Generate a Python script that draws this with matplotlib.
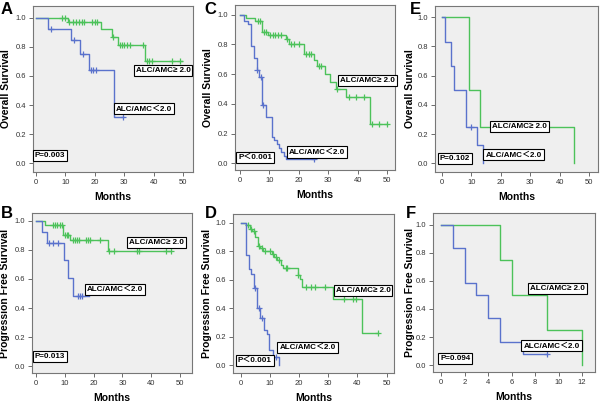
import numpy as np
import matplotlib
matplotlib.use("Agg")
import matplotlib.pyplot as plt

plt.rcParams['font.family'] = ['Liberation Sans', 'Noto Sans CJK SC', 'DejaVu Sans']

BLUE = "#5a72cc"
GREEN = "#4cc25a"

# ---- panel A: overall survival, cohort 1
a_hi_t = [0, 11, 22, 26, 28, 37]
a_hi_s = [1.0, 0.97, 0.92, 0.87, 0.815, 0.70]
a_hi_end = 49.5
a_hi_cens = [9, 10, 11.3, 12.7, 13.6, 14.5, 15.5, 16.2, 19.2, 20.1, 20.9, 26.2,
             28.5, 29.2, 30, 31, 32, 36.4, 37.6, 38.5, 39.4, 46.3, 49.1]
a_lo_t = [0, 4.2, 12, 15, 18.2, 26.4]
a_lo_s = [1.0, 0.922, 0.845, 0.748, 0.64, 0.32]
a_lo_end = 29.5
a_lo_cens = [5, 13, 16.1, 18.6, 19.5, 20.3, 29.5]

# ---- panel B: progression free survival, cohort 1
b_hi_t = [0, 3.1, 9.5, 11.8, 25.1]
b_hi_s = [1.0, 0.97, 0.905, 0.865, 0.79]
b_hi_end = 47
b_hi_cens = [5.8, 6.6, 7.4, 8.3, 9.1, 10.1, 10.6, 11.2, 12.7, 13.5, 14.4, 15,
             17.2, 17.9, 18.8, 22.2, 25.5, 27.1, 35, 35.9, 45, 46.9]
b_lo_t = [0, 2, 3.7, 9.8, 11, 12.7]
b_lo_s = [1.0, 0.923, 0.846, 0.727, 0.605, 0.485]
b_lo_end = 18.5
b_lo_cens = [4.6, 5.8, 7.8, 14.7, 15.3, 15.9]

# ---- panel C: overall survival, cohort 2
c_hi_t = [0, 1.9, 5.1, 7.5, 9.4, 15.7, 16.6, 21.6, 25, 26.1, 29, 30.7, 32.7, 36.1, 44.3]
c_hi_s = [1.0, 0.98, 0.96, 0.88, 0.86, 0.835, 0.805, 0.735, 0.695, 0.652, 0.60,
          0.55, 0.50, 0.444, 0.265]
c_hi_end = 50
c_hi_cens = [6, 6.8, 8, 8.9, 10.2, 11.1, 12, 13, 13.9, 16.1, 17.3, 18.4, 19.9,
             22.5, 23.4, 24.3, 26.8, 27.7, 33, 36.9, 39.5, 42, 44.9, 47.2, 50]
c_lo_t = [0, 1.5, 2.6, 3.75, 4.8, 5.7, 6.5, 7.6, 8.75, 10.8, 11.6, 12.5, 13.4, 14.1, 14.8, 15.7]
c_lo_s = [1.0, 0.96, 0.94, 0.79, 0.71, 0.625, 0.58, 0.39, 0.31, 0.18, 0.155, 0.13,
          0.10, 0.075, 0.05, 0.028]
c_lo_end = 25.2
c_lo_cens = [5.9, 7.0, 7.9, 25.2]

# ---- panel D: progression free survival, cohort 2
d_hi_t = [0, 2.0, 3.2, 4.0, 5.1, 5.9, 6.8, 7.7, 10.8, 11.6, 12.3, 13.7, 14.6,
          19.5, 20.2, 21.1, 31.7, 41.4]
d_hi_s = [1.0, 0.984, 0.956, 0.94, 0.897, 0.84, 0.82, 0.80, 0.777, 0.76, 0.738,
          0.705, 0.68, 0.634, 0.605, 0.546, 0.462, 0.23]
d_hi_end = 47
d_hi_cens = [2.5, 3.6, 4.5, 6.3, 7.2, 8.2, 10.0, 11.2, 12.0, 13.0, 15.4, 15.9,
             19.8, 22.4, 24, 25.5, 28.9, 35.4, 38.3, 39.5, 47]
d_lo_t = [0, 1.8, 2.9, 3.6, 4.7, 5.7, 6.8, 8, 8.9, 9.8, 11.2, 13.1]
d_lo_s = [1.0, 0.773, 0.674, 0.64, 0.544, 0.405, 0.333, 0.25, 0.218, 0.11, 0.055, 0.0]
d_lo_end = 13.1
d_lo_cens = [5.0, 6.2, 7.3, 12.1]

# ---- panel E: overall survival, cohort 3
e_hi_t = [0, 9, 13, 45]
e_hi_s = [1.0, 0.5, 0.25, 0.0]
e_hi_end = 45
e_hi_cens = []
e_lo_t = [0, 1, 3, 4, 8, 12, 14]
e_lo_s = [1.0, 0.833, 0.667, 0.5, 0.25, 0.125, 0.0]
e_lo_end = 14
e_lo_cens = [10]

# ---- panel F: progression free survival, cohort 3
f_hi_t = [0, 5, 6, 9, 12]
f_hi_s = [1.0, 0.75, 0.5, 0.25, 0.0]
f_hi_end = 12
f_hi_cens = []
f_lo_t = [0, 1, 2, 3, 4, 5, 7]
f_lo_s = [1.0, 0.833, 0.583, 0.5, 0.333, 0.167, 0.083]
f_lo_end = 9
f_lo_cens = [9]

p_values = {"A": "P=0.003", "B": "P=0.013", "C": "P\uff1c0.001",
            "D": "P\uff1c0.001", "E": "P=0.102", "F": "P=0.094"}
hi_label = "ALC/AMC\u2265 2.0"
lo_label = "ALC/AMC\uff1c2.0"

W, H = 600, 403

# panel: (data, axes box in px [l, t, r, b], xlim, ylim, xticks, ylabel, label positions)
panels = {
    "A": ((a_hi_t, a_hi_s, a_hi_end, a_hi_cens, a_lo_t, a_lo_s, a_lo_end, a_lo_cens),
          [33, 6, 193, 172], (-1, 53.4), (-0.06, 1.08), range(0, 51, 10), "Overall Survival",
          [(43.2, 0.634), (36.7, 0.373), (4.8, 0.05)]),
    "C": ((c_hi_t, c_hi_s, c_hi_end, c_hi_cens, c_lo_t, c_lo_s, c_lo_end, c_lo_cens),
          [235, 5, 395, 170], (-1.7, 52.7), (-0.045, 1.065), range(0, 51, 10), "Overall Survival",
          [(43.2, 0.554), (26.2, 0.076), (5.1, 0.04)]),
    "E": ((e_hi_t, e_hi_s, e_hi_end, e_hi_cens, e_lo_t, e_lo_s, e_lo_end, e_lo_cens),
          [435, 6, 598, 172], (-2.4, 53), (-0.06, 1.077), range(0, 51, 10), "Overall Survival",
          [(26.3, 0.249), (24.3, 0.057), (4.4, 0.03)]),
    "B": ((b_hi_t, b_hi_s, b_hi_end, b_hi_cens, b_lo_t, b_lo_s, b_lo_end, b_lo_cens),
          [32, 213, 192, 373], (-1.4, 54.2), (-0.046, 1.053), range(0, 51, 10), "Progression Free Survival",
          [(42, 0.853), (27.4, 0.53), (4.9, 0.069)]),
    "D": ((d_hi_t, d_hi_s, d_hi_end, d_hi_cens, d_lo_t, d_lo_s, d_lo_end, d_lo_cens),
          [233, 214, 394, 373], (-2.6, 52.5), (-0.054, 1.061), range(0, 51, 10), "Progression Free Survival",
          [(41.9, 0.525), (22.9, 0.126), (4.9, 0.033)]),
    "F": ((f_hi_t, f_hi_s, f_hi_end, f_hi_cens, f_lo_t, f_lo_s, f_lo_end, f_lo_cens),
          [433, 213, 595, 372], (-0.7, 13.1), (-0.048, 1.082), range(0, 13, 2), "Progression Free Survival",
          [(9.9, 0.545), (9.4, 0.137), (1.2, 0.048)]),
}
letter_pos = {"A": (7, 9), "C": (210, 9), "E": (415, 9),
              "B": (7, 214), "D": (211, 214), "F": (411, 214)}
ylabel_x = {"A": 6, "C": 208, "E": 410, "B": 5, "D": 207, "F": 410}


def surv_at(t, s, x):
    idx = np.searchsorted(t, x, side="right") - 1
    return np.array(s)[idx]


def draw_curve(ax, t, s, end, cens, color):
    ax.step(list(t) + [end], list(s) + [s[-1]], where="post", color=color, lw=1.0)
    if len(cens):
        ax.plot(cens, surv_at(t, s, cens), "+", color=color, ms=4.5, mew=0.9)


fig = plt.figure(figsize=(W / 100, H / 100), dpi=100)
box = dict(boxstyle="square,pad=0.25", fc="white", ec="black", lw=0.8)

for key, (data, (l, t, r, b), xl, yl, xt, ylab, lpos) in panels.items():
    ax = fig.add_axes([l / W, 1 - b / H, (r - l) / W, (b - t) / H])
    ax.set_facecolor("#efefef")
    hi_t, hi_s, hi_end, hi_c, lo_t, lo_s, lo_end, lo_c = data
    draw_curve(ax, hi_t, hi_s, hi_end, hi_c, GREEN)
    draw_curve(ax, lo_t, lo_s, lo_end, lo_c, BLUE)
    ax.set_xlim(*xl)
    ax.set_ylim(*yl)
    ax.set_xticks(list(xt))
    ax.set_yticks(np.arange(0, 1.01, 0.2))
    ax.set_yticklabels([f"{v:.1f}" for v in np.arange(0, 1.01, 0.2)])
    ax.tick_params(labelsize=5.5, length=3, width=0.6, color="#555555",
                   labelcolor="#333333", pad=2)
    for sp in ax.spines.values():
        sp.set_color("#777777")
        sp.set_linewidth(0.8)
    fs = 5.8
    ax.text(*lpos[0], hi_label, fontsize=fs, fontweight="bold", ha="center",
            va="center", bbox=box, zorder=5)
    ax.text(*lpos[1], lo_label, fontsize=fs, fontweight="bold", ha="center",
            va="center", bbox=box, zorder=5)
    ax.text(*lpos[2], p_values[key], fontsize=fs, fontweight="bold", ha="center",
            va="center", bbox=box, zorder=5)

    # axis titles and panel letter
    fig.text((l + r) / 2 / W, 1 - (b + 25) / H, "Months", fontsize=7.5,
             fontweight="bold", ha="center", va="center")
    fig.text(ylabel_x[key] / W, 1 - (t + b) / 2 / H, ylab, fontsize=7.5,
             fontweight="bold", rotation=90, ha="center", va="center")
    fig.text(letter_pos[key][0] / W, 1 - letter_pos[key][1] / H, key, fontsize=12,
             fontweight="bold", ha="center", va="center")

fig.savefig("out.png", dpi=100)
